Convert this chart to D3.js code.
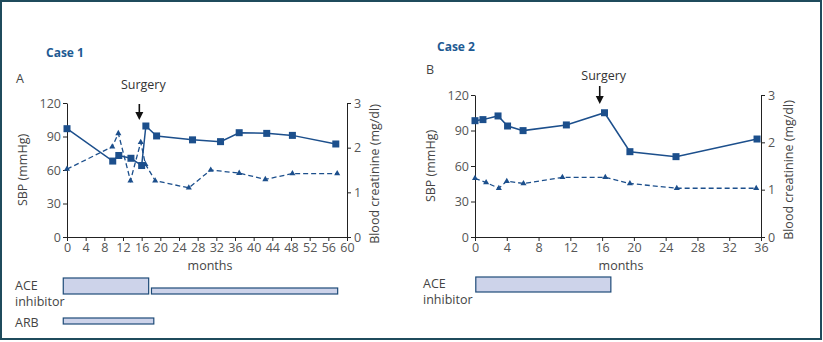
<!DOCTYPE html>
<html lang="en">
<head>
<meta charset="UTF-8">
<title>SBP and blood creatinine, Case 1 and Case 2</title>
<script src="https://d3js.org/d3.v7.min.js"></script>
<style>
  body { margin: 0; background: #fff; }
  svg text { font-family: "Open Sans", "Noto Sans", sans-serif; }
  .tick text { fill: #555; }
  .tick line, .domain { stroke: #222; }
</style>
</head>
<body>
<svg id="chart" width="823" height="342"></svg>
<script>
// ---- data ----
const case1Sbp = [
  [0, 97], [9.8, 68], [11.1, 73], [13.7, 70.5], [16, 64], [16.9, 99.4],
  [19.2, 90.5], [26.9, 87], [32.9, 85.4], [36.9, 93.4], [42.8, 92.8],
  [48.3, 91], [57.6, 83.3]
];
const case1Creat = [
  [0, 1.52], [9.7, 2.02], [11, 2.32], [13.6, 1.26], [15.8, 2.12], [16.8, 1.63],
  [18.9, 1.26], [26.1, 1.10], [30.8, 1.50], [36.9, 1.43], [42.5, 1.29],
  [48.3, 1.42], [57.9, 1.42]
];
const case2Sbp = [
  [0, 98.3], [1, 99.2], [2.9, 102.3], [4.1, 93.8], [6.05, 89.9], [11.5, 94.7],
  [16.3, 105], [19.5, 72.1], [25.3, 67.9], [35.5, 82.8]
];
const case2Creat = [
  [0, 1.24], [1.4, 1.15], [3, 1.03], [4, 1.18], [6.1, 1.13], [11, 1.26],
  [16.4, 1.26], [19.5, 1.13], [25.4, 1.03], [35.4, 1.03]
];
const case1Ticks = d3.range(0, 61, 4);
const case2Ticks = d3.range(0, 37, 4);
const sbpTicks = [0, 30, 60, 90, 120];
const creatTicks = [0, 1, 2, 3];
const case1Drugs = [
  { name: "ACE", start: -0.8, end: 17.5, row: 0, thick: true },
  { name: "ACE", start: 18.1, end: 58, row: 0, thick: false },
  { name: "ARB", start: -0.8, end: 18.6, row: 1, thick: false }
];
const case2Drugs = [
  { name: "ACE", start: 0.1, end: 17.1, row: 0, thick: true }
];
const case1Surgery = 15.5, case2Surgery = 15.7;

const blue = "#1c4f8c";
const svg = d3.select("#chart");

// frame
svg.append("rect").attr("x", 1).attr("y", 1).attr("width", 820).attr("height", 338)
  .attr("fill", "none").attr("stroke", "#1f4b5c").attr("stroke-width", 2);

function panel(o) {
  const g = svg.append("g");
  const x = d3.scaleLinear().domain([0, o.xmax]).range([o.x0, o.x1]);
  const yL = d3.scaleLinear().domain([0, 120]).range([o.y0, o.y1]);
  const yR = d3.scaleLinear().domain([0, 3]).range([o.y0, o.y1]);

  g.append("g").attr("transform", `translate(0,${o.y0})`)
    .call(d3.axisBottom(x).tickValues(o.ticks).tickSize(4).tickPadding(2).tickSizeOuter(0));
  g.append("g").attr("transform", `translate(${o.x0},0)`)
    .call(d3.axisLeft(yL).tickValues(sbpTicks).tickSize(4).tickPadding(2).tickSizeOuter(0));
  g.append("g").attr("transform", `translate(${o.x1},0)`)
    .call(d3.axisRight(yR).tickValues(creatTicks).tickFormat(d3.format("d"))
      .tickSize(4).tickPadding(3).tickSizeOuter(0));
  g.selectAll(".tick text").style("font-size", "12.5px");

  // axis titles
  g.append("text").attr("transform", `translate(${o.x0 - 44},${(o.y0 + o.y1) / 2}) rotate(-90)`)
    .attr("text-anchor", "middle").attr("dy", "0.35em").attr("fill", "#444").style("font-size", "12.5px")
    .text("SBP (mmHg)");
  g.append("text").attr("transform", `translate(${o.x1 + 28},${(o.y0 + o.y1) / 2 + 4}) rotate(-90)`)
    .attr("text-anchor", "middle").attr("dy", "0.35em").attr("fill", "#444").style("font-size", "12.5px")
    .text("Blood creatinine (mg/dl)");
  g.append("text").attr("x", (o.x0 + o.x1) / 2 + 3).attr("y", o.y0 + 33)
    .attr("text-anchor", "middle").attr("fill", "#444").style("font-size", "12.5px").text("months");

  // case title and panel letter
  g.append("text").attr("x", o.titleX).attr("y", o.titleY).attr("fill", "#1d5a93")
    .style("font-size", "12px").style("font-weight", "bold").text(o.title);
  g.append("text").attr("x", o.letterX).attr("y", o.letterY).attr("fill", "#444")
    .style("font-size", "12.5px").text(o.letter);

  // surgery arrow
  const sx = x(o.surgery);
  g.append("text").attr("x", sx + 4).attr("y", o.surgTextY).attr("text-anchor", "middle")
    .attr("fill", "#333").style("font-size", "12.5px").text("Surgery");
  g.append("line").attr("x1", sx).attr("x2", sx).attr("y1", o.arrowTop).attr("y2", o.arrowBot - 6)
    .attr("stroke", "#111").attr("stroke-width", 1.6);
  g.append("path").attr("d", `M${sx - 4},${o.arrowBot - 8} L${sx + 4},${o.arrowBot - 8} L${sx},${o.arrowBot} Z`)
    .attr("fill", "#111");

  // creatinine dashed line
  const lineR = d3.line().x(d => x(d[0])).y(d => yR(d[1]));
  g.append("path").datum(o.creat).attr("d", lineR).attr("fill", "none")
    .attr("stroke", blue).attr("stroke-width", 1.3).attr("stroke-dasharray", "5,3");
  g.selectAll(".tri").data(o.creat).enter().append("path")
    .attr("d", d3.symbol().type(d3.symbolTriangle).size(16))
    .attr("transform", d => `translate(${x(d[0])},${yR(d[1])})`).attr("fill", blue);

  // SBP solid line
  const lineL = d3.line().x(d => x(d[0])).y(d => yL(d[1]));
  g.append("path").datum(o.sbp).attr("d", lineL).attr("fill", "none")
    .attr("stroke", blue).attr("stroke-width", 1.5);
  g.selectAll(".sq").data(o.sbp).enter().append("rect")
    .attr("x", d => x(d[0]) - 3.5).attr("y", d => yL(d[1]) - 3.5)
    .attr("width", 7).attr("height", 7).attr("fill", blue);

  // treatment bars
  o.drugs.forEach(d => {
    const top = o.barY[d.row] + (d.thick ? 0 : o.thinOffset[d.row]);
    g.append("rect").attr("x", x(d.start)).attr("y", top)
      .attr("width", x(d.end) - x(d.start)).attr("height", d.thick ? o.barH : 6)
      .attr("fill", "#cdd3ea").attr("stroke", "#1f4b78").attr("stroke-width", 1.2);
  });
  o.drugLabels.forEach(l => {
    l.lines.forEach((t, i) => {
      g.append("text").attr("x", o.labelX).attr("y", l.y + i * 16).attr("fill", "#444")
        .style("font-size", "12.5px").text(t);
    });
  });
}

panel({
  xmax: 60, ticks: case1Ticks, x0: 67, x1: 347, y0: 237, y1: 103,
  sbp: case1Sbp, creat: case1Creat, surgery: case1Surgery,
  title: "Case 1", titleX: 46, titleY: 57, letter: "A", letterX: 16, letterY: 83,
  surgTextY: 89, arrowTop: 104, arrowBot: 120,
  drugs: case1Drugs, barY: [278, 318], barH: 16, thinOffset: [10, 0],
  labelX: 15, drugLabels: [{ y: 290, lines: ["ACE", "inhibitor"] }, { y: 327, lines: ["ARB"] }]
});

panel({
  xmax: 36, ticks: case2Ticks, x0: 475, x1: 761, y0: 237, y1: 95,
  sbp: case2Sbp, creat: case2Creat, surgery: case2Surgery,
  title: "Case 2", titleX: 437, titleY: 51, letter: "B", letterX: 426, letterY: 74,
  surgTextY: 80, arrowTop: 86, arrowBot: 104,
  drugs: case2Drugs, barY: [277], barH: 15, thinOffset: [9],
  labelX: 423, drugLabels: [{ y: 288, lines: ["ACE", "inhibitor"] }]
});
</script>
</body>
</html>
